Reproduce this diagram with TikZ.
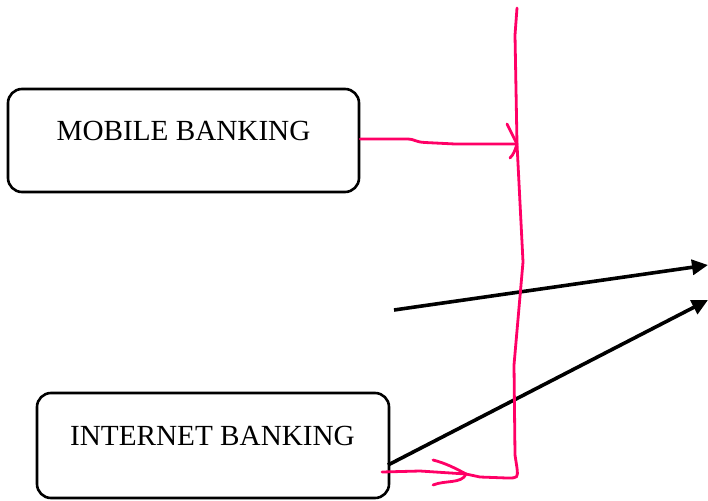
\documentclass[tikz,border=0pt]{standalone}
\usepackage{fontspec}
\setmainfont{Liberation Serif}
\usetikzlibrary{arrows.meta}
\definecolor{pinkline}{RGB}{255,0,102}
\tikzset{
  box/.style={draw=black, line width=2.6pt, rounded corners=14pt, inner sep=0pt},
  lbl/.style={font=\fontsize{29.2}{32}\selectfont, inner sep=0pt},
  blk/.style={draw=black, line width=3.6pt, -{Triangle[length=16pt,width=15pt]}},
  pk/.style={draw=pinkline, line width=2.8pt, line cap=round, line join=round}
}
\begin{document}
\begin{tikzpicture}[x=1pt,y=-1pt]
\useasboundingbox (0,0) rectangle (708,500);
% boxes
\node[box, minimum width=351pt, minimum height=103pt] (mobile) at (183.5,140.5) {};
\node[lbl] (mobiletxt) at (183.5,131) {MOBILE BANKING};
\node[box, minimum width=352pt, minimum height=105pt] (internet) at (213,445.5) {};
\node[lbl] (internettxt) at (212.5,436) {INTERNET BANKING};
% coordinates
\coordinate (vtop) at (517,8);
\coordinate (hit1) at (517,144);
\coordinate (hit2) at (466,474);
\coordinate (s1) at (394,310);
\coordinate (e1) at (708,265);
\coordinate (s2) at (388,465);
\coordinate (e2) at (708,300);
% black arrows
\draw[blk] (s1) -- (e1);
\draw[blk] (s2) -- (e2);
% pink vertical line
\draw[pk] (vtop) -- (515,35) -- (hit1) -- (523,262) -- (514,365) -- (515,455) -- (517,468)
  .. controls (518,478) .. (507,478) -- (480,477) -- (hit2);
% upper pink arrow
\draw[pk] (mobile.east |- 0,139) -- (408,139) .. controls (414,139) and (415,142) .. (425,142.5) -- (455,144) -- (hit1);
\draw[pk] (507,124) -- (hit1);
\draw[pk] (510,158) .. controls (514,154) and (515,150) .. (hit1);
% lower pink arrow
\draw[pk] (382,472) -- (420,471) -- (hit2);
\draw[pk] (433,460) .. controls (445,463) and (455,468) .. (hit2);
\draw[pk] (433,485) .. controls (445,480) and (462,484) .. (hit2);
\end{tikzpicture}
\end{document}
